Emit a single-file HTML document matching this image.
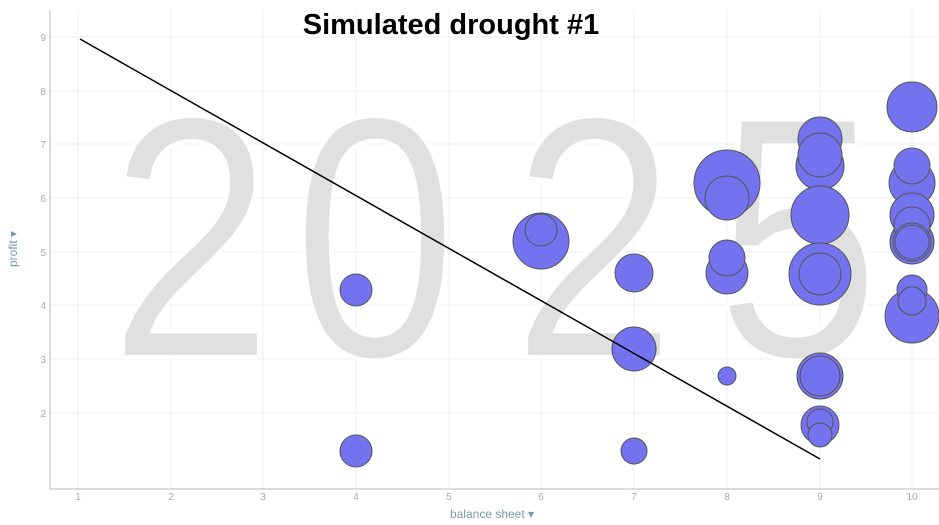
<!DOCTYPE html>
<html><head><style>body{margin:0;background:#fff}svg{display:block}</style></head><body>
<svg width="939" height="525" xmlns="http://www.w3.org/2000/svg" font-family="Liberation Sans, sans-serif">
<g stroke="#e8f0f0" stroke-width="1">
<line x1="78" y1="10" x2="78" y2="489"/><line x1="171" y1="10" x2="171" y2="489"/><line x1="263" y1="10" x2="263" y2="489"/><line x1="356" y1="10" x2="356" y2="489"/><line x1="449" y1="10" x2="449" y2="489"/><line x1="541" y1="10" x2="541" y2="489"/><line x1="634" y1="10" x2="634" y2="489"/><line x1="727" y1="10" x2="727" y2="489"/><line x1="820" y1="10" x2="820" y2="489"/><line x1="912" y1="10" x2="912" y2="489"/>
<line x1="50" y1="37" x2="939" y2="37"/><line x1="50" y1="91" x2="939" y2="91"/><line x1="50" y1="144" x2="939" y2="144"/><line x1="50" y1="198" x2="939" y2="198"/><line x1="50" y1="252" x2="939" y2="252"/><line x1="50" y1="305" x2="939" y2="305"/><line x1="50" y1="359" x2="939" y2="359"/><line x1="50" y1="413" x2="939" y2="413"/>
</g>
<g font-size="345" fill="#e0e0e0" stroke="#fff" stroke-width="4" text-anchor="middle">
<text transform="translate(191,357) scale(0.86,1)">2</text>
<text transform="translate(375,357) scale(0.86,1)">0</text>
<text transform="translate(594,357) scale(0.86,1)">2</text>
<text transform="translate(798,357) scale(0.86,1)">5</text>
</g>
<g stroke="#bbb"><line x1="50" y1="10" x2="50" y2="489"/><line x1="50" y1="489" x2="939" y2="489"/></g>
<g font-size="10" fill="#aaa" text-anchor="end">
<text x="46" y="41">9</text><text x="46" y="95">8</text><text x="46" y="148">7</text><text x="46" y="202">6</text><text x="46" y="256">5</text><text x="46" y="309">4</text><text x="46" y="363">3</text><text x="46" y="417">2</text></g>
<g font-size="10" fill="#aaa" text-anchor="middle">
<text x="78" y="500">1</text><text x="171" y="500">2</text><text x="263" y="500">3</text><text x="356" y="500">4</text><text x="449" y="500">5</text><text x="541" y="500">6</text><text x="634" y="500">7</text><text x="727" y="500">8</text><text x="820" y="500">9</text><text x="912" y="500">10</text></g>
<text x="492" y="518" font-size="12" fill="#7a9aa8" text-anchor="middle">balance sheet ▾</text>
<text transform="translate(17,249) rotate(-90)" font-size="12" fill="#7a9aa8" text-anchor="middle">profit ▾</text>
<g fill="#7373f0" stroke="#555" stroke-width="1">
<circle cx="356" cy="290" r="16"/><circle cx="356" cy="451" r="16"/>
<circle cx="541" cy="241" r="28"/><circle cx="541" cy="230" r="16"/>
<circle cx="634" cy="273" r="19"/><circle cx="634" cy="349" r="22"/><circle cx="634" cy="451" r="13"/>
<circle cx="727" cy="183" r="33"/><circle cx="727" cy="198" r="22"/>
<circle cx="727" cy="273" r="21"/><circle cx="727" cy="258" r="18"/><circle cx="727" cy="376" r="9"/>
<circle cx="820" cy="139" r="22"/><circle cx="820" cy="166" r="24"/><circle cx="820" cy="155" r="22"/>
<circle cx="820" cy="215" r="29"/><circle cx="820" cy="274" r="31"/><circle cx="820" cy="274" r="21"/>
<circle cx="820" cy="376" r="23"/><circle cx="820" cy="376" r="20"/>
<circle cx="820" cy="425" r="19"/><circle cx="820" cy="422" r="13"/><circle cx="820" cy="435" r="12"/>
<circle cx="912" cy="107" r="25"/><circle cx="912" cy="183" r="23"/><circle cx="912" cy="166" r="18"/>
<circle cx="912" cy="215" r="22"/><circle cx="912" cy="242" r="22"/><circle cx="912" cy="225" r="18"/><circle cx="912" cy="242" r="19"/><circle cx="912" cy="242" r="17"/>
<circle cx="912" cy="316" r="27"/><circle cx="912" cy="290" r="15"/><circle cx="912" cy="301" r="14"/>
</g>
<line x1="80" y1="39" x2="820" y2="459" stroke="#000" stroke-width="1.5"/>
<text x="451" y="34" font-size="29" font-weight="bold" fill="#000" text-anchor="middle">Simulated drought #1</text>
</svg>
</body></html>
